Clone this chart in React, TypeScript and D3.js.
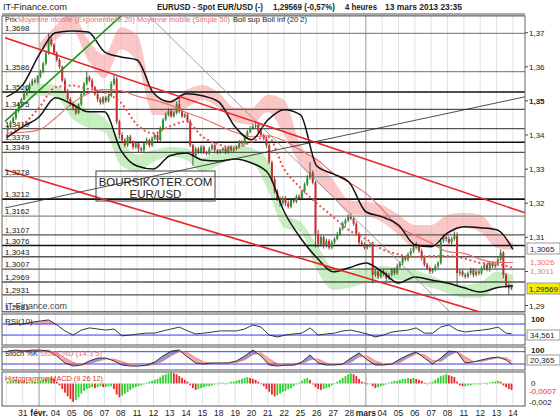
import * as d3 from "d3";

const FONT = "'Liberation Sans', Arial, sans-serif";

// EUR/USD 4 heures, du 30 janv. au 13 mars 2013 : 6 bougies par jour
const firstOpen = 1.3415;
const closes = [
  1.3425, 1.3438, 1.345, 1.347, 1.349, 1.3505,
  1.352, 1.3535, 1.3548, 1.356, 1.3555, 1.3572,
  1.3585, 1.361, 1.364, 1.368, 1.3665, 1.364,
  1.362, 1.36, 1.356, 1.353, 1.3505, 1.349,
  1.348, 1.3465, 1.349, 1.352, 1.355, 1.357,
  1.356, 1.354, 1.352, 1.3505, 1.3495, 1.351,
  1.35, 1.3515, 1.355, 1.3565, 1.344, 1.34,
  1.3385, 1.337, 1.3395, 1.338, 1.3365, 1.3375,
  1.336, 1.3355, 1.3375, 1.3385, 1.337, 1.339,
  1.34, 1.3385, 1.342, 1.3445, 1.346, 1.347,
  1.3455, 1.3465, 1.349, 1.347, 1.3455, 1.346,
  1.344, 1.337, 1.334, 1.336, 1.335, 1.3365,
  1.335, 1.3345, 1.336, 1.337, 1.3355, 1.335,
  1.3355, 1.336, 1.335, 1.3365, 1.3355, 1.336,
  1.3365, 1.338, 1.3375, 1.3395, 1.341, 1.342,
  1.3425, 1.343, 1.341, 1.34, 1.339, 1.337,
  1.332, 1.327, 1.3235, 1.3215, 1.32, 1.3215,
  1.32, 1.319, 1.321, 1.3205, 1.322, 1.3215,
  1.3235, 1.3255, 1.3275, 1.329, 1.326, 1.311,
  1.308, 1.31, 1.3075, 1.309, 1.307, 1.3085,
  1.3095, 1.311, 1.3125, 1.314, 1.315, 1.316,
  1.3155, 1.314, 1.311, 1.3085, 1.308, 1.307,
  1.3075, 1.308, 1.299, 1.3, 1.2985, 1.3,
  1.2995, 1.298, 1.299, 1.3005, 1.2995, 1.3015,
  1.3025, 1.304, 1.3035, 1.305, 1.306, 1.307,
  1.3075, 1.306, 1.304, 1.302, 1.301, 1.3,
  1.3005, 1.3015, 1.3025, 1.309, 1.31, 1.3095,
  1.3085, 1.3095, 1.3105, 1.2995, 1.3, 1.299,
  1.2985, 1.2995, 1.3005, 1.299, 1.3, 1.2995,
  1.301, 1.302, 1.3005, 1.3025, 1.3015, 1.302,
  1.3035, 1.3055, 1.299, 1.296, 1.295, 1.29569,
];
// mèches, en pips au-dessus / au-dessous du corps
const wickHi = [
  6, 4, 5, 4, 6, 5, 5, 4, 6, 5, 8, 4, 6, 5, 8, 18, 6, 5, 5, 6, 4, 8, 5, 6,
  6, 5, 4, 5, 6, 16, 5, 6, 4, 5, 6, 4, 5, 6, 8, 12, 6, 5, 8, 6, 5, 6, 4, 5,
  5, 6, 4, 8, 5, 6, 5, 8, 6, 5, 6, 8, 6, 5, 8, 27, 5, 4, 5, 6, 4, 6, 5, 6,
  5, 4, 6, 5, 6, 4, 4, 5, 6, 4, 5, 6, 5, 6, 4, 6, 5, 6, 8, 8, 6, 5, 4, 5,
  6, 5, 8, 6, 5, 6, 6, 8, 5, 6, 5, 6, 5, 6, 8, 30, 6, 5, 12, 6, 5, 6, 5, 6,
  5, 6, 5, 6, 5, 8, 10, 5, 6, 5, 6, 5, 5, 6, 8, 5, 6, 5, 6, 5, 6, 5, 6, 8,
  5, 6, 5, 6, 8, 10, 12, 5, 6, 5, 6, 5, 5, 6, 5, 8, 10, 6, 8, 6, 12, 10, 6, 5,
  6, 5, 6, 5, 6, 5, 5, 6, 5, 6, 5, 8, 6, 10, 5, 6, 5, 4,
];
const wickLo = [
  10, 5, 4, 6, 5, 4, 4, 5, 6, 4, 5, 6, 5, 4, 6, 5, 6, 5, 5, 6, 5, 6, 5, 6,
  8, 6, 4, 5, 6, 5, 5, 6, 5, 8, 6, 5, 6, 5, 4, 5, 8, 10, 8, 6, 5, 6, 8, 5,
  10, 6, 5, 4, 6, 5, 5, 6, 4, 5, 4, 6, 5, 4, 5, 6, 5, 6, 5, 6, 30, 5, 6, 5,
  6, 5, 4, 6, 5, 6, 5, 4, 6, 5, 4, 5, 5, 4, 6, 5, 4, 5, 4, 5, 6, 5, 6, 8,
  6, 8, 6, 8, 10, 6, 8, 6, 5, 6, 5, 6, 5, 6, 5, 6, 5, 40, 10, 6, 8, 5, 6, 5,
  5, 4, 6, 5, 6, 5, 5, 6, 5, 8, 6, 5, 6, 5, 25, 6, 8, 5, 8, 10, 6, 5, 6, 5,
  5, 6, 5, 6, 5, 6, 5, 6, 8, 6, 5, 8, 6, 5, 6, 5, 6, 8, 5, 6, 5, 35, 8, 6,
  6, 5, 6, 8, 5, 6, 5, 6, 5, 6, 5, 6, 5, 6, 10, 8, 18, 5,
];

// indicateurs, relevés à chaque début de journée (32 points)
const bollUp = [
  1.3512, 1.3547, 1.3635, 1.37, 1.3705, 1.3702, 1.3644, 1.3629, 1.362, 1.3523,
  1.3497, 1.3521, 1.3515, 1.3497, 1.3424, 1.3386, 1.3444, 1.3474, 1.3459, 1.3309,
  1.3286, 1.326, 1.3175, 1.316, 1.3136, 1.3078, 1.3072, 1.3113, 1.3131, 1.3128,
  1.3122, 1.3065,
];
const bollDn = [
  1.3392, 1.3424, 1.3453, 1.3509, 1.3491, 1.3468, 1.3468, 1.3356, 1.3309, 1.33,
  1.3339, 1.3347, 1.3327, 1.3324, 1.333, 1.3318, 1.3289, 1.3175, 1.3098, 1.304,
  1.2999, 1.3011, 1.3025, 1.2999, 1.2966, 1.2984, 1.2975, 1.2966, 1.2952, 1.294,
  1.2952, 1.2958,
];
const ema20 = [
  1.34, 1.343, 1.348, 1.354, 1.3545, 1.3535, 1.3525, 1.3495, 1.343, 1.3405,
  1.3425, 1.344, 1.3395, 1.3372, 1.3362, 1.338, 1.3395, 1.33, 1.3245, 1.32,
  1.316, 1.312, 1.3095, 1.3065, 1.305, 1.3042, 1.3045, 1.3045, 1.3038, 1.3025,
  1.3022, 1.3011,
];
const sma50 = [
  1.3405, 1.3408, 1.3415, 1.345, 1.3492, 1.3522, 1.3533, 1.353, 1.3514, 1.3503,
  1.3488, 1.3466, 1.3449, 1.3428, 1.3408, 1.3395, 1.3398, 1.3383, 1.3355, 1.3328,
  1.3288, 1.326, 1.3229, 1.3183, 1.3131, 1.3106, 1.3083, 1.3058, 1.3053, 1.3036,
  1.3026, 1.3026,
];
const pinkTop = [
  null, null, 1.3667, 1.372, 1.3758, 1.3679, 1.3635, 1.3716, 1.3694, 1.3518,
  1.3503, 1.3532, 1.3547, 1.3524, 1.348, 1.348, 1.3518, 1.3503, 1.3371, 1.3327,
  1.3268, 1.3209, 1.3204, 1.3195, 1.3166, 1.3136, 1.3136, 1.3166, 1.3172, 1.3166,
  1.3116, 1.3084,
];
const pinkBot = [
  null, null, 1.3638, 1.3679, 1.3708, 1.362, 1.3567, 1.3651, 1.3614, 1.3459,
  1.3459, 1.348, 1.3503, 1.348, 1.3438, 1.343, 1.3468, 1.34, 1.3312, 1.3262,
  1.3216, 1.3169, 1.3163, 1.3145, 1.3107, 1.3069, 1.3078, 1.3107, 1.3128, 1.3116,
  1.3069, 1.3063,
];
const greenTop = [
  null, 1.3538, 1.355, 1.3547, 1.3503, 1.3474, 1.345, 1.3386, 1.3342, 1.3356,
  1.3365, 1.3362, 1.3333, 1.3356, 1.3371, 1.3362, 1.3327, 1.3166, 1.3145, 1.3078,
  1.301, 1.2999, 1.301, 1.3016, 1.301, 1.3004, 1.2987, 1.2969, 1.2961, 1.2969,
  1.2999, 1.299,
];
const greenBot = [
  null, 1.3503, 1.3515, 1.3512, 1.345, 1.3421, 1.3409, 1.3312, 1.3292, 1.3321,
  1.3336, 1.3327, 1.3292, 1.3312, 1.3333, 1.3321, 1.3239, 1.3128, 1.3116, 1.3004,
  1.2946, 1.2952, 1.2966, 1.2981, 1.2975, 1.2969, 1.2952, 1.2937, 1.2923, 1.2923,
  1.2952, 1.2961,
];

// oscillateurs, relevés toutes les demi-journées (63 points)
const rsi = [
  67, 70, 70, 77, 81, 85, 67, 45, 30, 48, 56, 52, 48, 52, 27, 30, 34, 37, 37, 45,
  52, 59, 45, 34, 37, 41, 45, 45, 45, 52, 67, 59, 30, 23, 30, 34, 37, 56, 30, 34,
  37, 45, 48, 41, 34, 23, 30, 41, 45, 48, 56, 37, 37, 59, 67, 48, 41, 45, 48, 52,
  59, 37, 34.561,
];
const stochK = [
  83, 88, 83, 88, 88, 83, 59, 25, 10, 15, 35, 49, 49, 35, 15, 10, 10, 15, 30, 59,
  83, 88, 54, 25, 20, 25, 25, 25, 35, 59, 88, 59, 15, 10, 15, 15, 30, 64, 25, 15,
  15, 20, 49, 74, 40, 15, 15, 20, 44, 64, 79, 49, 20, 49, 83, 79, 25, 30, 40, 49,
  54, 40, 20.365,
];
const stochD = [
  80, 84, 86, 85, 86, 86, 75, 50, 28, 15, 20, 33, 44, 44, 32, 18, 12, 12, 18, 35,
  60, 80, 75, 50, 30, 23, 23, 25, 28, 40, 65, 75, 45, 22, 13, 14, 20, 40, 45, 25,
  17, 17, 28, 55, 60, 35, 20, 17, 28, 50, 70, 65, 38, 32, 60, 80, 55, 32, 32, 42,
  50, 50, 35,
];
// histogramme MACD par bougie, en 1e-4
const macdHist = [
  2, 3, 3, 4, 3, 3, 3, 2, 2, 3, 2, 2, 3, 4, 5, 7, 6, 5, 2, -2, -6, -10, -14, -17,
  -20, -18, -15, -11, -8, -6, -5, -4, -5, -4, -3, -4, -4, -3, -3, -6, -12, -15,
  -13, -11, -9, -7, -5, -4, -3, -2, -1, 1, 2, 3, 4, 5, 7, 9, 10, 11,
  12, 11, 10, 8, 6, 4, 2, -2, -5, -7, -6, -5, -4, -3, -3, -2, -1, 0,
  1, 1, 0, 1, 2, 2, 3, 4, 5, 6, 7, 6, 5, 4, 2, 0, -3, -6,
  -9, -12, -14, -13, -11, -9, -8, -6, -5, -3, -1, 1, 3, 5, 6, 4, -1, -4,
  -6, -7, -6, -5, -4, -2, 0, 2, 4, 6, 8, 10, 11, 10, 8, 5, 2, 1,
  0, 0, -3, -5, -4, -3, -2, -1, 1, 2, 3, 3, 4, 5, 5, 6, 5, 6,
  5, 4, 3, 1, 0, 1, 2, 4, 6, 8, 9, 10, 9, 8, 7, 2, -2, -3,
  -3, -2, -2, -1, -1, 0, 0, 1, 0, 1, 2, 2, 3, 2, -2, -4, -6, -7,
];

const dayLabels = [
  "31", "févr.", "04", "05", "06", "07", "08", "11", "12", "13", "14", "15",
  "18", "19", "20", "21", "22", "25", "26", "27", "28", "mars", "04", "05",
  "06", "07", "08", "11", "12", "13", "14",
];
const levels = [
  1.3698, 1.3586, 1.3526, 1.3475, 1.3419, 1.3379, 1.3349, 1.3278, 1.3212,
  1.3162, 1.3107, 1.3076, 1.3043, 1.3007, 1.2969, 1.2931, 1.2881,
];
const strongLevels = [1.3526, 1.3379, 1.3212, 1.3076];
const lightLevels = [1.3698, 1.3586, 1.3278, 1.3162];
const priceTicks = [1.37, 1.36, 1.35, 1.34, 1.33, 1.32, 1.31, 1.3, 1.29];

// droites tracées : [position en bougies, prix]
const greenTrend = [[-0.5, 1.344], [42.5, 1.3752]];
const redTop = [[-0.5, 1.3685], [190.4, 1.3172]];
const redBottom = [[-0.5, 1.3298], [173.9, 1.2881]];
const greyDiag = [[52, 1.3752], [162.9, 1.2881]];
const blackDiag = [[-0.5, 1.3186], [190.4, 1.3512]];

const comma = (v: number, f: string) => d3.format(f)(v).replace(".", ",").replace("−", "-");

export default function App() {
  const L = 2, R = 525;
  const x = d3.scaleLinear().domain([0, 186]).range([6.4, 512.9]);
  const y = d3.scaleLinear().domain([1.2881, 1.3749]).range([312, 16]);
  const yRsi = d3.scaleLinear().domain([0, 100]).range([343.3, 315.8]);
  const ySto = d3.scaleLinear().domain([0, 100]).range([368.1, 347.6]);
  const yMacd = d3.scaleLinear().domain([-20, 0]).range([401.9, 383.5]);

  const dayPos = d3.range(32).map((d) => d * 6);
  const oscPos = d3.range(62).map((k) => 3 * k + 0.5).concat([185.5]);

  const dayLine = (vals: number[]) =>
    d3.line<number>().x((_, i) => x(dayPos[i])).y((d) => y(d)).curve(d3.curveMonotoneX)(vals) || "";
  const ribbon = (top: (number | null)[], bot: (number | null)[]) =>
    d3
      .area<number | null>()
      .defined((d) => d != null)
      .x((_, i) => x(dayPos[i]))
      .y0((_, i) => y(bot[i] as number))
      .y1((d) => y(d as number))
      .curve(d3.curveMonotoneX)(top) || "";
  const seg = (pts: number[][]) => ({ x1: x(pts[0][0]), y1: y(pts[0][1]), x2: x(pts[1][0]), y2: y(pts[1][1]) });

  const oscLine = (vals: number[], sy: d3.ScaleLinear<number, number>) =>
    d3.line<number>().x((_, i) => x(oscPos[i])).y((d) => sy(d))(vals) || "";
  const rsiHigh = d3.area<number>().x((_, i) => x(oscPos[i])).y0(yRsi(70)).y1((d) => yRsi(Math.max(d, 70)))(rsi) || "";
  const rsiLow = d3.area<number>().x((_, i) => x(oscPos[i])).y0(yRsi(30)).y1((d) => yRsi(Math.min(d, 30)))(rsi) || "";
  const stoBetween = d3.area<number>().x((_, i) => x(oscPos[i])).y0((_, i) => ySto(stochD[i])).y1((d) => ySto(d))(stochK) || "";
  const dAbove = d3.area<number>().x((_, i) => x(oscPos[i])).y0(340).y1((d) => ySto(d))(stochD) || "";
  const dBelow = d3.area<number>().x((_, i) => x(oscPos[i])).y0(380).y1((d) => ySto(d))(stochD) || "";

  const t = { fontFamily: FONT, fontSize: 8, fill: "#222" } as const;
  const head = { ...t, fontSize: 9, fontWeight: "bold" } as const;
  const fit = { lengthAdjust: "spacingAndGlyphs" } as const;

  return (
    <svg width={560} height={420} style={{ position: "absolute", left: 0, top: 0, background: "#fff" }}>
      <defs>
        <clipPath id="main"><rect x={L} y={16} width={R - L} height={296} /></clipPath>
        <clipPath id="stoUp"><path d={dAbove} /></clipPath>
        <clipPath id="stoDn"><path d={dBelow} /></clipPath>
      </defs>

      {/* en-tête */}
      <text x={3} y={10} style={{ ...t, fontSize: 9 }} textLength={64} {...fit}>IT-Finance.com</text>
      <text x={157} y={10} style={head} textLength={106} {...fit}>EURUSD - Spot EUR/USD (-)</text>
      <text x={273} y={10} style={head} textLength={62} {...fit}>1,29569 (-0,57%)</text>
      <text x={345} y={10} style={head} textLength={32} {...fit}>4 heures</text>
      <text x={385} y={10} style={head} textLength={77} {...fit}>13 mars 2013 23:35</text>

      {/* grille verticale */}
      {dayPos.map((p, d) => (
        <g key={d}>
          {[[16, 312], [314, 345], [347, 370], [372, 406]].map(([a, b], k) => (
            <line key={k} x1={x(p)} x2={x(p)} y1={a} y2={b}
              stroke={d === 2 || d === 22 ? "#9a9a9a" : "#e2e2e2"} strokeWidth={1} />
          ))}
        </g>
      ))}

      <g clipPath="url(#main)">
        <path d={ribbon(pinkTop, pinkBot)} fill="#f7a8a8" opacity={0.65} />
        <path d={ribbon(greenTop, greenBot)} fill="#abe6a0" opacity={0.65} />
        {levels.map((v) => (
          <line key={v} x1={L} x2={R} y1={y(v)} y2={y(v)}
            stroke={strongLevels.includes(v) ? "#111" : lightLevels.includes(v) ? "#8a8a8a" : "#555"}
            strokeWidth={strongLevels.includes(v) ? 1.6 : 1.3} />
        ))}
        {closes.map((c, i) => {
          const o = i === 0 ? firstOpen : closes[i - 1];
          const top = Math.max(o, c), bot = Math.min(o, c);
          const cx = x(i + 0.5);
          return (
            <g key={i}>
              <line x1={cx} x2={cx} y1={y(top + wickHi[i] / 1e4)} y2={y(bot - wickLo[i] / 1e4)} stroke="#333" strokeWidth={0.8} />
              <rect x={cx - 1} y={y(top)} width={2} height={Math.max(1, y(bot) - y(top))} fill={c >= o ? "#2c962c" : "#cf2a2a"} />
            </g>
          );
        })}
        <path d={dayLine(sma50)} fill="none" stroke="#ee6a6a" strokeWidth={1.1} />
        <path d={dayLine(ema20)} fill="none" stroke="#ea5555" strokeWidth={2} strokeDasharray="2,2.6" />
        <path d={dayLine(bollUp)} fill="none" stroke="#111" strokeWidth={1.5} />
        <path d={dayLine(bollDn)} fill="none" stroke="#111" strokeWidth={1.5} />
        <line {...seg(greyDiag)} stroke="#888" strokeWidth={0.8} />
        <line {...seg(blackDiag)} stroke="#222" strokeWidth={0.8} />
        <line {...seg(redTop)} stroke="#ec2222" strokeWidth={1.6} />
        <line {...seg(redBottom)} stroke="#ec2222" strokeWidth={1.6} />
        <line {...seg(greenTrend)} stroke="#1a9a1a" strokeWidth={1.6} />
      </g>

      {/* libellés des niveaux */}
      {levels.map((v) => (
        <text key={v} x={5} y={y(v) - 2} style={t}>{comma(v, ".4f")}</text>
      ))}
      <text x={5} y={309} style={{ ...t, fontSize: 9, fill: "#444" }}>IT-Finance.com</text>

      <text x={5} y={22} style={t} textLength={12} {...fit}>Prix</text>
      <text x={18} y={22} style={{ ...t, fill: "#ee6a6a" }} textLength={117} {...fit}>Moyenne mobile (Exponentielle 20)</text>
      <text x={137} y={22} style={{ ...t, fill: "#ee6a6a" }} textLength={93} {...fit}>Moyenne mobile (Simple 50)</text>
      <text x={233} y={22} style={t} textLength={74} {...fit}>Boll sup Boll inf (20 2)</text>

      <rect x={96} y={171} width={119} height={30} fill="none" stroke="#444" strokeWidth={1} />
      <text x={155.5} y={186} textAnchor="middle" style={{ ...t, fontSize: 11.5 }}>BOURSIKOTER.COM</text>
      <text x={155.5} y={198} textAnchor="middle" style={{ ...t, fontSize: 11.5 }}>EUR/USD</text>

      <rect x={L} y={13} width={R - L} height={3} fill="#a8a8a8" />
      <rect x={L} y={16} width={R - L} height={296} fill="none" stroke="#666" />

      {/* axe des prix ; le libellé 1,30 est couvert par celui de la moyenne */}
      {priceTicks.map((v) => (
        <g key={v}>
          <line x1={R} x2={R + 3} y1={y(v)} y2={y(v)} stroke="#444" />
          {v !== 1.3 && (
            <text x={529} y={y(v) + 3} style={{ ...t, fontWeight: v === 1.35 ? "bold" : "normal" }}>{comma(v, ".2f")}</text>
          )}
        </g>
      ))}
      <rect x={527} y={243} width={33} height={11} fill="#fff" stroke="#999" />
      <text x={530} y={251.5} style={t}>{comma(bollUp[31], ".4f")}</text>
      <text x={530} y={264.5} style={{ ...t, fill: "#ee6a6a" }}>{comma(sma50[31], ".4f")}</text>
      <text x={530} y={274} style={{ ...t, fill: "#ee7a7a" }}>{comma(ema20[31], ".4f")}</text>
      <rect x={527} y={283} width={33} height={11} fill="#f4ee10" stroke="#999" />
      <text x={529} y={291.5} style={t}>{comma(closes[185], ".5f")}</text>

      {/* RSI */}
      <path d={rsiHigh} fill="#f3a4a4" />
      <path d={rsiLow} fill="#a8e59c" />
      {[70, 30].map((v) => (
        <line key={v} x1={L} x2={R} y1={yRsi(v)} y2={yRsi(v)} stroke="#3a3ae6" strokeWidth={1} />
      ))}
      <path d={oscLine(rsi, yRsi)} fill="none" stroke="#222" strokeWidth={0.9} />
      <rect x={L} y={314} width={R - L} height={31} fill="none" stroke="#555" />
      <text x={5} y={324} style={t}>RSI(10)</text>
      <text x={531} y={322} style={{ ...t, fontWeight: "bold" }}>100</text>
      <rect x={527} y={330} width={33} height={10} fill="#fff" stroke="#999" />
      <text x={530} y={338} style={t}>{comma(rsi[62], ".3f")}</text>

      {/* Stochastique */}
      <path d={stoBetween} fill="#9296d6" clipPath="url(#stoUp)" />
      <path d={stoBetween} fill="#f4a8a8" clipPath="url(#stoDn)" />
      {[80, 20].map((v) => (
        <line key={v} x1={L} x2={R} y1={ySto(v)} y2={ySto(v)} stroke="#3a3ae6" strokeWidth={1} />
      ))}
      <path d={oscLine(stochD, ySto)} fill="none" stroke="#f08080" strokeWidth={0.9} />
      <path d={oscLine(stochK, ySto)} fill="none" stroke="#222" strokeWidth={0.9} />
      <rect x={L} y={347} width={R - L} height={23} fill="none" stroke="#555" />
      <text x={5} y={356} style={t} textLength={33} {...fit}>Stoch %K</text>
      <text x={40} y={356} style={{ ...t, fill: "#f07070" }} textLength={62} {...fit}>Stoch %D (14 3 5)</text>
      <text x={531} y={353} style={{ ...t, fontWeight: "bold" }}>100</text>
      <rect x={527} y={355} width={33} height={10} fill="#fff" stroke="#999" />
      <text x={530} y={363} style={t}>{comma(stochK[62], ".3f")}</text>

      {/* MACD */}
      {macdHist.map((v, i) => (
        <rect key={i} x={x(i + 0.5) - 0.9} width={1.8}
          y={Math.min(yMacd(0), yMacd(v))} height={Math.max(0.8, Math.abs(yMacd(v) - yMacd(0)))}
          fill={i === 0 || v >= macdHist[i - 1] ? "#2ed12e" : "#e62a2a"} />
      ))}
      <rect x={L} y={372} width={R - L} height={34} fill="none" stroke="#555" />
      <text x={5} y={381} style={{ ...t, fill: "#e03030" }} textLength={98} {...fit}>Histogramme MACD (9 26 12)</text>
      <text x={531} y={386} style={t}>0</text>
      <text x={529} y={394} style={{ ...t, fill: "#e03030" }}>{comma(macdHist[185] / 1e4, ".4f")}</text>
      <text x={529} y={404.5} style={t}>-0,002</text>

      {/* axe du temps */}
      {dayLabels.map((s, k) => (
        <text key={k} x={x(dayPos[k + 1])} y={416} textAnchor="middle"
          style={{ ...t, fontSize: 8.5, fontWeight: isNaN(+s) ? "bold" : "normal" }}>{s}</text>
      ))}
    </svg>
  );
}
